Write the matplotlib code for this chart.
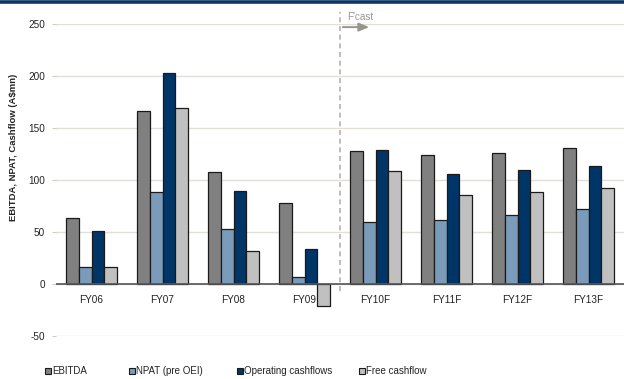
import matplotlib
matplotlib.use("Agg")
import matplotlib.pyplot as plt
import numpy as np
from matplotlib import font_manager

# Pick a condensed sans face if available
available = {f.name for f in font_manager.fontManager.ttflist}
family = ["Liberation Sans Narrow", "Liberation Sans", "DejaVu Sans"]
family = [f for f in family if f in available] + ["DejaVu Sans"]
plt.rcParams["font.family"] = family

categories = ["FY06", "FY07", "FY08", "FY09", "FY10F", "FY11F", "FY12F", "FY13F"]
ebitda = [63, 166, 107, 78, 128, 124, 126, 131]
npat = [16, 88, 53, 6, 59, 61, 66, 72]
op_cashflow = [51, 203, 89, 33, 129, 106, 109, 113]
free_cashflow = [16, 169, 31, -22, 108, 85, 88, 92]

series_names = ["EBITDA", "NPAT (pre OEI)", "Operating cashflows", "Free cashflow"]
series_values = [ebitda, npat, op_cashflow, free_cashflow]
colors = ["#808080", "#7b9bba", "#003567", "#c0c0c0"]

W, H = 624, 379
fig = plt.figure(figsize=(W / 100, H / 100), dpi=100)
fig.patch.set_facecolor("white")

# navy rule across the top
fig.add_artist(plt.Line2D([0, 1], [1 - 1.5 / H, 1 - 1.5 / H], color="#0a3566", lw=2.6,
                          transform=fig.transFigure))

ax_left, ax_right = 56 / W, 1.0
ax_top, ax_bot = 24 / H, 335.5 / H
ax = fig.add_axes([ax_left, 1 - ax_bot, ax_right - ax_left, ax_bot - ax_top])

x = np.arange(len(categories))
bw = 0.183
offsets = (np.arange(4) - 1.5) * bw
for vals, off, c, name in zip(series_values, offsets, colors, series_names):
    ax.bar(x + off, vals, width=bw, color=c, edgecolor="#1a1a1a", linewidth=0.9,
           label=name, zorder=3)

ax.set_xlim(-0.5, len(categories) - 0.5)
ax.set_ylim(-50, 250)
ax.set_yticks(np.arange(-50, 251, 50))
ax.set_yticklabels([str(v) for v in range(-50, 251, 50)])
ax.grid(axis="y", color="#e2ded8", lw=1.0, zorder=0)
ax.set_axisbelow(True)
for s in ax.spines.values():
    s.set_visible(False)
ax.axhline(0, color="#555555", lw=1.2, zorder=4)
ax.tick_params(axis="y", length=3, width=0.8, color="#d0ccc6", labelsize=7.2,
               labelcolor="#222222", pad=5)
ax.tick_params(axis="x", length=0, labelsize=7.2, labelcolor="#222222")
ax.set_xticks(x)
ax.set_xticklabels([])
for xi, lab in zip(x, categories):
    ax.text(xi, -16, lab, ha="center", va="center", fontsize=7.2, color="#222222", zorder=2)

# forecast divider
xdiv = 3.5
ax.plot([xdiv, xdiv], [-7, 262], ls=(0, (3, 2.2)), color="#b5b2ae", lw=1.2,
        clip_on=False, zorder=2)
ax.annotate("", xy=(3.95, 247), xytext=(xdiv, 247),
            arrowprops=dict(arrowstyle="-|>,head_length=0.6,head_width=0.25",
                            color="#9a948e", lw=1.4), annotation_clip=False)
ax.text(3.6, 257, "F'cast", fontsize=7.2, color="#9a948e", ha="left", va="center")

fig.text(14 / W, 1 - 147 / H, "EBITDA, NPAT, Cashflow (A$mn)", rotation=90,
         ha="center", va="center", fontsize=6.8, fontweight="bold", color="#222222")

# legend row
leg_x = [45, 129, 237, 359]
for lx, c, name in zip(leg_x, colors, series_names):
    fig.patches.append(plt.Rectangle((lx / W, 1 - 374 / H), 6 / W, 6 / H,
                                     facecolor=c, edgecolor="#1a1a1a", lw=0.8,
                                     transform=fig.transFigure))
    fig.text((lx + 7.5) / W, 1 - 371 / H, name, fontsize=7, color="#222222",
             ha="left", va="center")

fig.savefig("out.png", dpi=100)
